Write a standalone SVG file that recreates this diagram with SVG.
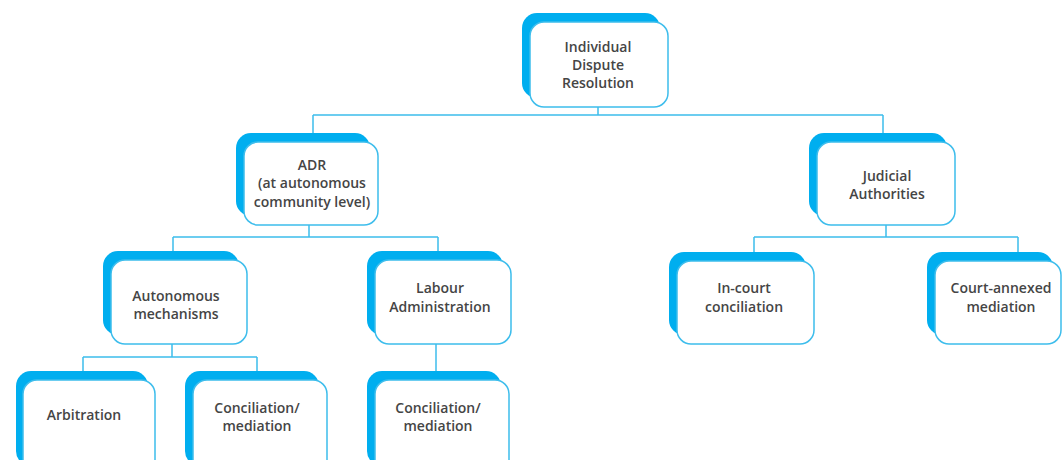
<svg xmlns="http://www.w3.org/2000/svg" width="1062" height="460" viewBox="0 0 1062 460">
<style>
.bk{fill:#00aeef;}
.fr{fill:#ffffff;stroke:#3dbdec;stroke-width:1.5;}
.ln{fill:none;stroke:#3dbdec;stroke-width:1.5;}
text{font-family:"Open Sans","Noto Sans","Liberation Sans",sans-serif;font-size:14px;font-weight:600;fill:#454545;text-anchor:middle;}
</style>
<rect width="1062" height="460" fill="#ffffff"/>
<g id="connectors">
<path class="ln" d="M598,107 V115 M313,115 H883 M313,115 V133 M883,115 V133"/>
<path class="ln" d="M309,225 V237 M173,237 H438 M173,237 V251 M438,237 V251"/>
<path class="ln" d="M886,225 V237 M754,237 H1018 M754,237 V252 M1018,237 V252"/>
<path class="ln" d="M172,344 V357 M83,357 H257 M83,357 V371 M257,357 V371"/>
<path class="ln" d="M436,344 V371"/>
</g>
<g id="n-individual">
<rect class="bk" x="522" y="13" width="138" height="85" rx="15"/>
<rect class="fr" x="530" y="22" width="138" height="85" rx="14"/>
<text x="598" y="52">Individual</text>
<text x="598" y="70">Dispute</text>
<text x="598" y="88">Resolution</text>
</g>
<g id="n-adr">
<rect class="bk" x="236" y="133" width="134" height="83" rx="15"/>
<rect class="fr" x="244" y="142" width="134" height="83" rx="14"/>
<text x="312" y="170">ADR</text>
<text x="312" y="188">(at autonomous</text>
<text x="312" y="207">community level)</text>
</g>
<g id="n-judicial">
<rect class="bk" x="809" y="133" width="138" height="83" rx="15"/>
<rect class="fr" x="817" y="142" width="138" height="83" rx="14"/>
<text x="887" y="181">Judicial</text>
<text x="887" y="199">Authorities</text>
</g>
<g id="n-autonomous">
<rect class="bk" x="103" y="251" width="136" height="84" rx="15"/>
<rect class="fr" x="111" y="260" width="136" height="84" rx="14"/>
<text x="176" y="301">Autonomous</text>
<text x="176" y="319">mechanisms</text>
</g>
<g id="n-labour">
<rect class="bk" x="367" y="251" width="136" height="84" rx="15"/>
<rect class="fr" x="375" y="260" width="136" height="84" rx="14"/>
<text x="440" y="293">Labour</text>
<text x="440" y="312">Administration</text>
</g>
<g id="n-incourt">
<rect class="bk" x="669" y="252" width="137" height="83" rx="15"/>
<rect class="fr" x="677" y="261" width="137" height="83" rx="14"/>
<text x="744" y="293">In-court</text>
<text x="744" y="312">conciliation</text>
</g>
<g id="n-courtannexed">
<rect class="bk" x="927" y="252" width="126" height="83" rx="15"/>
<rect class="fr" x="935" y="261" width="126" height="83" rx="14"/>
<text x="1001" y="293">Court-annexed</text>
<text x="1001" y="312">mediation</text>
</g>
<g id="n-arbitration">
<rect class="bk" x="16" y="371" width="132" height="95" rx="15"/>
<rect class="fr" x="23" y="380" width="132" height="95" rx="14"/>
<text x="84" y="420">Arbitration</text>
</g>
<g id="n-conciliation1">
<rect class="bk" x="185" y="371" width="134" height="95" rx="15"/>
<rect class="fr" x="193" y="380" width="134" height="95" rx="14"/>
<text x="257" y="413">Conciliation/</text>
<text x="257" y="431">mediation</text>
</g>
<g id="n-conciliation2">
<rect class="bk" x="367" y="371" width="134" height="95" rx="15"/>
<rect class="fr" x="375" y="380" width="134" height="95" rx="14"/>
<text x="438" y="413">Conciliation/</text>
<text x="438" y="431">mediation</text>
</g>
</svg>
